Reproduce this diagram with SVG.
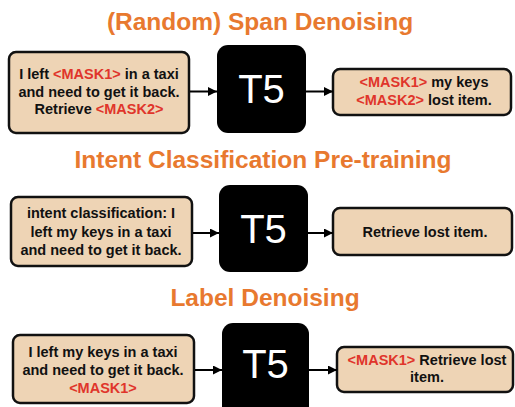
<svg xmlns="http://www.w3.org/2000/svg" width="515" height="407" viewBox="0 0 515 407">
<style>
.title{font-family:"Liberation Sans",Arial,sans-serif;font-weight:bold;font-size:24.5px;fill:#E8792F;text-anchor:middle}
.box{fill:#EED4B5;stroke:#111;stroke-width:2.5}
.t5{fill:#000}
.t5t{font-family:"Liberation Sans",Arial,sans-serif;font-size:40px;fill:#fff;text-anchor:middle}
.txt{font-family:"Liberation Sans",Arial,sans-serif;font-weight:bold;font-size:14.5px;fill:#111;text-anchor:middle}
.m{fill:#E0352B}
.conn{stroke:#000;stroke-width:2;fill:none;marker-end:url(#ah)}
</style>
<defs>
<marker id="ah" viewBox="0 0 10 10" refX="10" refY="5" markerWidth="4.5" markerHeight="4.5" orient="auto" markerUnits="strokeWidth">
<path d="M0,0 L10,5 L0,10 z" fill="#000"/>
</marker>
</defs>
<rect width="515" height="407" fill="#fff"/>
<text class="title" x="260" y="30">(Random) Span Denoising</text>
<text class="title" x="263" y="168">Intent Classification Pre-training</text>
<text class="title" x="265" y="306">Label Denoising</text>

<g id="in1">
<rect class="box" x="9" y="52" width="180" height="81" rx="7"/>
<text class="txt" x="99" y="79">I left <tspan class="m">&lt;MASK1&gt;</tspan> in a taxi</text>
<text class="txt" x="99" y="97">and need to get it back.</text>
<text class="txt" x="99" y="114">Retrieve <tspan class="m">&lt;MASK2&gt;</tspan></text>
</g>
<g id="t5a">
<rect class="t5" x="217" y="45" width="89" height="88" rx="11"/>
<text class="t5t" x="261.5" y="103">T5</text>
</g>
<g id="out1">
<rect class="box" x="333" y="69" width="178" height="46" rx="7"/>
<text class="txt" x="424" y="87"><tspan class="m">&lt;MASK1&gt;</tspan> my keys</text>
<text class="txt" x="424" y="105"><tspan class="m">&lt;MASK2&gt;</tspan> lost item.</text>
</g>

<g id="in2">
<rect class="box" x="11" y="197" width="181" height="69" rx="7"/>
<text class="txt" x="101" y="218">intent classification: I</text>
<text class="txt" x="101" y="237">left my keys in a taxi</text>
<text class="txt" x="101" y="255">and need to get it back.</text>
</g>
<g id="t5b">
<rect class="t5" x="219" y="185" width="89" height="87" rx="11"/>
<text class="t5t" x="263.5" y="243">T5</text>
</g>
<g id="out2">
<rect class="box" x="333" y="208" width="179" height="47" rx="7"/>
<text class="txt" x="425" y="237">Retrieve lost item.</text>
</g>

<g id="in3">
<rect class="box" x="13" y="335" width="181" height="68" rx="7"/>
<text class="txt" x="103" y="357">I left my keys in a taxi</text>
<text class="txt" x="103" y="375">and need to get it back.</text>
<text class="txt m" x="103" y="393">&lt;MASK1&gt;</text>
</g>
<g id="t5c">
<rect class="t5" x="222" y="323" width="87" height="100" rx="11"/>
<text class="t5t" x="265.5" y="378">T5</text>
</g>
<g id="out3">
<rect class="box" x="337" y="347" width="176" height="45" rx="7"/>
<text class="txt" x="427" y="365"><tspan class="m">&lt;MASK1&gt;</tspan> Retrieve lost</text>
<text class="txt" x="427" y="382">item.</text>
</g>

<g id="connectors">
<line class="conn" x1="190" y1="91.5" x2="217" y2="91.5"/>
<line class="conn" x1="306" y1="91.5" x2="333" y2="91.5"/>
<line class="conn" x1="193" y1="233" x2="219" y2="233"/>
<line class="conn" x1="308" y1="233" x2="333" y2="233"/>
<line class="conn" x1="195" y1="370" x2="222" y2="370"/>
<line class="conn" x1="309" y1="370" x2="337" y2="370"/>
</g>
</svg>
